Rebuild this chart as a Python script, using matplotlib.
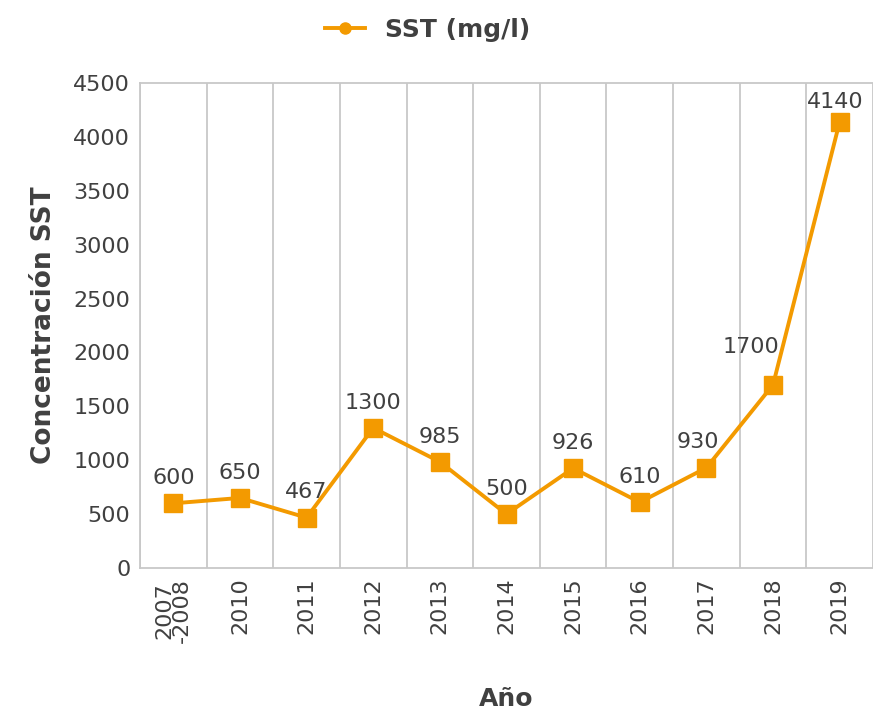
import matplotlib
matplotlib.use('Agg')
import matplotlib.pyplot as plt

years = ['2007\n-2008', '2010', '2011', '2012', '2013', '2014',
         '2015', '2016', '2017', '2018', '2019']
sst = [600, 650, 467, 1300, 985, 500, 926, 610, 930, 1700, 4140]
yticks = [0, 500, 1000, 1500, 2000, 2500, 3000, 3500, 4000, 4500]

orange = '#F39A00'
txt = '#404040'
grid = '#C8C8C8'

plt.rcParams['font.family'] = ['DejaVu Sans']

fig = plt.figure(figsize=(8.73, 7.2), dpi=100)
ax = fig.add_axes([140/873, 152/720, 733/873, 485/720])

x = list(range(len(years)))
ax.plot(x, sst, color=orange, lw=2.8, marker='s', ms=13,
        mec=orange, mfc=orange, label='SST (mg/l)', clip_on=False, zorder=3)

for i, v in enumerate(sst):
    dx, dy = 0, 11
    if i == 9:
        dx, dy = -16, 20
    elif i == 8:
        dx = -6
    elif i == 10:
        dx, dy = -3, 7
    ax.annotate(str(v), (i, v), xytext=(dx, dy), textcoords='offset points',
                ha='center', va='bottom', fontsize=16, color=txt)

ax.set_xlim(-0.5, -0.5 + 733/67)
ax.set_ylim(0, 4500)
ax.set_xticks(x)
ax.set_xticklabels(years, rotation=90, fontsize=16, color=txt,
                   linespacing=0.85)
ax.set_yticks(yticks)
ax.set_yticklabels([str(t) for t in yticks], fontsize=16, color=txt)
ax.tick_params(length=0, pad=7)

ax.set_xticks([i + 0.5 for i in range(-1, len(years))], minor=True)
ax.tick_params(which='minor', length=0)
ax.grid(axis='x', which='minor', color=grid, lw=1.3)
ax.grid(axis='x', which='major', visible=False)
ax.set_axisbelow(True)

for s in ['left', 'bottom', 'top']:
    ax.spines[s].set_color(grid)
    ax.spines[s].set_linewidth(1.3)
ax.spines['right'].set_visible(False)

ax.set_ylabel('Concentración SST', fontsize=19, fontweight='bold',
              color=txt, labelpad=12)
ax.set_xlabel('Año', fontsize=18, fontweight='bold', color=txt, labelpad=32)

leg = fig.legend(handles=ax.get_lines(), loc='center', bbox_to_anchor=(0.49, 0.958),
                 frameon=False, fontsize=18, handlelength=1.6)
leg.get_lines()[0].set_marker('o')
leg.get_lines()[0].set_markersize(8)
for t in leg.get_texts():
    t.set_fontweight('bold')
    t.set_color(txt)

fig.savefig('out.png', dpi=100)
